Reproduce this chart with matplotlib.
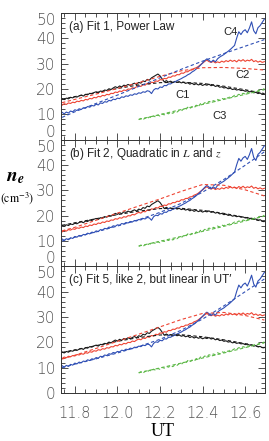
import numpy as np
import matplotlib
matplotlib.use("Agg")
import matplotlib.pyplot as plt
from matplotlib.ticker import MultipleLocator

plt.rcParams['mathtext.fontset'] = 'stix'

# ---------------- data ----------------
ut = np.round(np.arange(11.74, 12.695, 0.01), 2)

c1 = [16.2, 15.8, 16.4, 16.1, 16.7, 16.5, 17.0, 16.8, 17.3, 17.6,
      17.2, 17.9, 17.7, 18.3, 18.1, 18.6, 18.9, 18.5, 19.2, 19.0,
      19.6, 19.4, 20.1, 19.8, 20.4, 20.9, 20.5, 21.2, 20.8, 21.5,
      21.3, 21.8, 21.4, 21.9, 22.3, 21.8, 22.6, 22.3, 23.2, 22.9,
      23.8, 23.5, 24.4, 24.9, 25.4, 25.9, 25.2, 24.0, 22.8, 23.3,
      22.7, 23.1, 22.5, 23.0, 22.6, 22.9, 22.4, 22.7, 22.2, 22.5,
      21.9, 22.3, 21.7, 22.1, 21.6, 21.9, 21.4, 21.8, 21.5, 21.9,
      21.3, 21.6, 21.0, 21.3, 20.7, 20.9, 20.4, 20.6, 20.1, 20.3,
      19.8, 20.0, 19.6, 19.8, 19.4, 19.5, 19.1, 19.3, 18.9, 19.0,
      18.5, 18.7, 18.2, 18.4, 17.9, 18.0]

c2 = [13.6, 14.2, 13.9, 14.5, 14.3, 14.8, 14.6, 15.2, 15.0, 15.5,
      15.3, 15.9, 15.7, 16.3, 16.1, 16.7, 16.5, 17.1, 16.9, 17.5,
      17.3, 17.9, 17.7, 18.3, 18.2, 18.8, 18.6, 19.2, 19.0, 19.6,
      19.4, 20.0, 19.9, 20.5, 20.3, 20.9, 21.3, 21.0, 21.7, 21.5,
      22.2, 22.0, 22.7, 22.5, 23.2, 23.0, 23.7, 23.6, 24.2, 24.0,
      24.7, 24.6, 25.2, 25.1, 25.7, 25.6, 26.3, 26.2, 26.8, 26.8,
      27.4, 27.5, 28.1, 28.4, 28.9, 29.6, 30.2, 30.9, 31.4, 30.8,
      30.5, 30.9, 30.3, 30.7, 30.4, 31.0, 30.6, 31.2, 30.8, 31.4,
      30.9, 31.3, 30.7, 31.5, 31.0, 31.6, 30.9, 31.4, 31.1, 31.7,
      30.8, 31.2, 30.6, 31.0, 30.5, 30.8]

c4 = [10.8, 10.2, 10.9, 10.5, 11.3, 11.0, 11.8, 11.5, 12.2, 11.9,
      12.6, 12.4, 13.1, 12.8, 13.5, 13.3, 14.0, 13.7, 14.5, 14.3,
      15.0, 14.8, 15.5, 15.3, 16.0, 15.8, 16.4, 16.2, 16.9, 16.7,
      17.3, 17.1, 17.7, 17.5, 18.1, 17.9, 18.5, 18.3, 18.9, 18.7,
      19.3, 19.1, 18.2, 19.6, 20.2, 20.0, 20.8, 20.6, 21.4, 21.3,
      22.0, 22.0, 22.6, 22.8, 23.3, 23.7, 24.1, 24.6, 25.0, 25.6,
      26.0, 26.7, 27.2, 27.9, 28.6, 29.4, 30.3, 31.2, 31.9, 31.3,
      30.6, 31.4, 30.7, 31.9, 32.6, 33.1, 33.6, 34.3, 34.9, 35.6,
      36.4, 37.2, 40.1, 42.6, 41.5, 42.8, 43.4, 42.2, 44.1, 46.5,
      43.0, 41.8, 44.2, 45.0, 46.3, 47.6]

ut_c3 = np.round(np.arange(12.10, 12.695, 0.01), 2)
c3 = [7.9, 8.4, 7.8, 8.6, 8.2, 9.0, 8.6, 9.4, 8.9, 9.7,
      9.3, 10.1, 9.8, 10.5, 10.2, 10.8, 10.4, 11.1, 10.9, 11.6,
      11.3, 12.1, 11.7, 12.8, 12.2, 13.0, 12.5, 13.6, 13.1, 14.2,
      13.8, 14.6, 14.3, 15.1, 14.8, 15.4, 15.1, 15.9, 15.5, 16.3,
      16.0, 16.7, 16.4, 17.1, 16.9, 17.5, 17.3, 17.9, 17.6, 18.3,
      18.0, 18.6, 18.4, 19.0, 18.8, 19.4, 19.2, 19.8, 19.6, 20.2]

ut_fit = [11.74, 11.80, 11.90, 12.00, 12.10, 12.20, 12.30, 12.40, 12.50, 12.60, 12.69]
ut_fit3 = [12.10, 12.20, 12.30, 12.40, 12.50, 12.60, 12.69]

fit_a_c1 = [16.0, 17.0, 18.6, 20.2, 21.6, 22.5, 22.7, 22.2, 21.1, 19.7, 18.2]
fit_a_c2 = [14.6, 15.9, 18.0, 20.2, 22.5, 25.0, 27.2, 28.4, 28.5, 28.1, 27.5]
fit_a_c4 = [8.8, 11.0, 14.3, 17.6, 21.0, 24.4, 27.8, 31.0, 34.0, 36.9, 39.5]
fit_a_c3 = [8.0, 9.9, 11.9, 13.9, 15.9, 17.9, 19.7]

fit_b_c1 = [16.2, 17.2, 18.8, 20.4, 21.8, 22.8, 22.9, 22.1, 20.9, 19.3, 17.6]
fit_b_c2 = [14.0, 15.4, 18.2, 21.0, 23.8, 26.6, 29.6, 32.3, 32.0, 30.2, 27.8]
fit_b_c4 = [10.0, 11.5, 13.6, 15.9, 18.4, 21.3, 24.9, 29.3, 34.3, 39.9, 45.2]
fit_b_c3 = [8.0, 9.9, 11.8, 13.8, 15.8, 17.9, 19.8]

fit_c_c1 = [16.0, 17.0, 18.7, 20.4, 21.9, 22.9, 23.0, 22.2, 21.0, 19.5, 17.8]
fit_c_c2 = [13.4, 14.9, 17.6, 20.4, 23.2, 26.1, 29.0, 31.4, 31.8, 30.6, 28.8]
fit_c_c4 = [10.0, 11.4, 13.5, 15.8, 18.3, 21.2, 24.8, 29.2, 34.4, 40.0, 45.0]
fit_c_c3 = [8.0, 9.9, 11.8, 13.8, 15.8, 17.9, 19.8]

titles = ["(a) Fit 1, Power Law",
          "(b) Fit 2, Quadratic in $\\it{L}$ and $\\it{z}$",
          "(c) Fit 5, like 2, but linear in UT\u2032"]
fits = [(fit_a_c1, fit_a_c2, fit_a_c3, fit_a_c4),
        (fit_b_c1, fit_b_c2, fit_b_c3, fit_b_c4),
        (fit_c_c1, fit_c_c2, fit_c_c3, fit_c_c4)]

curve_names = ["C4", "C2", "C1", "C3"]
curve_label_pos = [(12.530, 42.5), (12.586, 25.7), (12.307, 17.8), (12.479, 9.2)]
xtick_vals = [11.8, 12.0, 12.2, 12.4, 12.6]
ytick_vals = [0, 10, 20, 30, 40, 50]

# ---------------- style ----------------
col_k = '#1a1a1a'
col_r = '#ee4433'
col_b = '#2f4fb5'
col_g = '#5cb847'
tick_col = '#555555'
dash = (0, (3.0, 2.2))

W, H = 269, 441
fig = plt.figure(figsize=(W / 100, H / 100), dpi=100)

left = 61 / W
width = (265 - 61) / W
top_px = 13
ph = (393 - 13) / 3.0

axes = []
for i in range(3):
    y0 = 1 - (top_px + (i + 1) * ph) / H
    ax = fig.add_axes([left, y0, width, ph / H])
    axes.append(ax)

for i, ax in enumerate(axes):
    fa = fits[i]
    ax.plot(ut, c1, color=col_k, lw=0.8)
    ax.plot(ut, c2, color=col_r, lw=0.8)
    ax.plot(ut, c4, color=col_b, lw=0.8)
    ax.plot(ut_c3, c3, color=col_g, lw=0.8, ls=dash)
    ax.plot(ut_fit, fa[0], color=col_k, lw=0.8, ls=dash)
    ax.plot(ut_fit, fa[1], color=col_r, lw=0.8, ls=dash)
    ax.plot(ut_fit3, fa[2], color=col_g, lw=0.8, ls=dash)
    ax.plot(ut_fit, fa[3], color=col_b, lw=0.8, ls=dash)

    ax.set_xlim(11.735, 12.693)
    ax.set_ylim(0, 50)
    ax.set_yticks(ytick_vals)
    ax.yaxis.set_minor_locator(MultipleLocator(2))
    ax.set_xticks(xtick_vals)
    ax.xaxis.set_minor_locator(MultipleLocator(0.05))
    ax.tick_params(which='both', direction='in', top=True, right=True,
                   colors='#333333', width=0.6)
    ax.tick_params(which='major', length=5)
    ax.tick_params(which='minor', length=3)
    ax.tick_params(axis='y', labelsize=11, labelcolor=tick_col, pad=4)
    ax.tick_params(axis='x', labelsize=10.5, labelcolor=tick_col, pad=9)
    for sp in ax.spines.values():
        sp.set_linewidth(0.7)
        sp.set_color('#333333')
    if i < 2:
        ax.set_xticklabels([])
    else:
        ax.set_xticklabels(["%.1f" % v for v in xtick_vals])
    for lab in ax.get_yticklabels() + ax.get_xticklabels():
        lab.set_fontfamily('DejaVu Sans')
        lab.set_fontweight('light')
    ticks = ax.yaxis.get_major_ticks()
    ticks[-1].label1.set_verticalalignment('top')
    if i < 2:
        ticks[0].label1.set_verticalalignment('bottom')

    ax.text(0.04, 0.89, titles[i], transform=ax.transAxes, fontsize=8.5,
            family='Liberation Sans', color='#222222', va='center', ha='left')

for name, (x, y) in zip(curve_names, curve_label_pos):
    axes[0].text(x, y, name, fontsize=8, family='Liberation Sans',
                 color='#222222', ha='center', va='center')

axes[2].set_xlabel("UT", family='Liberation Serif', fontsize=13, labelpad=2)

fig.text(15 / W, 1 - 176 / H, r"$\boldsymbol{n}_{\boldsymbol{e}}$", fontsize=14,
         ha='center', va='center')
fig.text(17 / W, 1 - 198 / H, r"$\left(\mathrm{cm}^{-3}\right)$", fontsize=8.5,
         ha='center', va='center')

fig.savefig("out.png", dpi=100)
